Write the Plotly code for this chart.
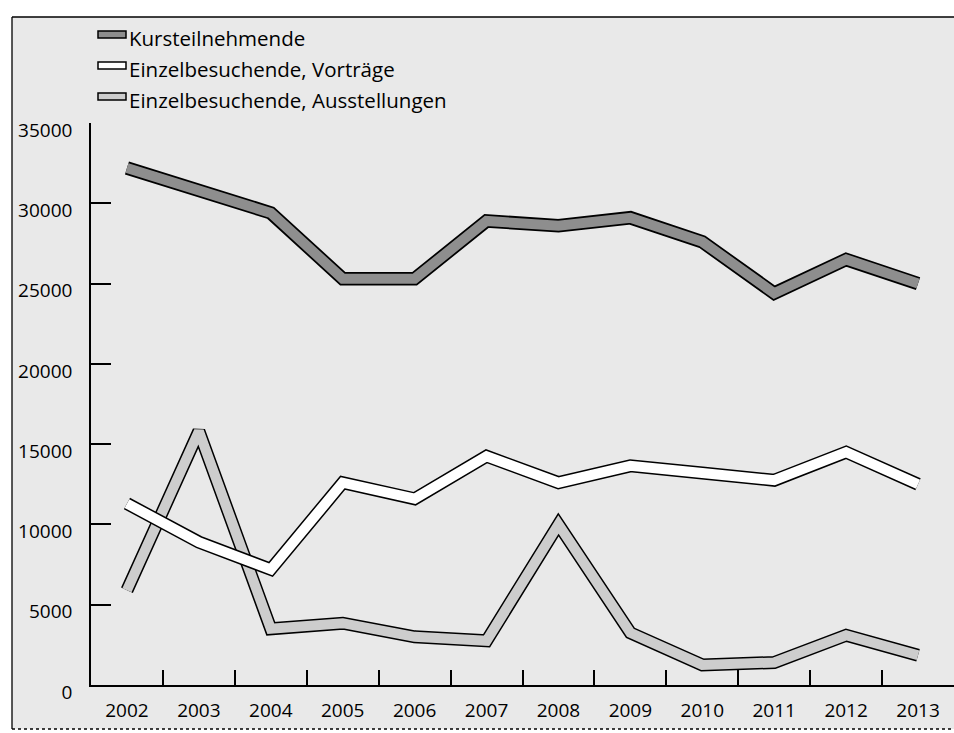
"""
Teilnehmende und Einzelbesuchende 2002-2013 als Bandlinien (Plotly-Nachbau).
"""

import plotly.graph_objects as go

years = ["2002", "2003", "2004", "2005", "2006", "2007",
         "2008", "2009", "2010", "2011", "2012", "2013"]

kursteilnehmende = [32200, 30800, 29400, 25300, 25300, 28900,
                    28600, 29100, 27600, 24400, 26500, 25000]
vortraege = [11300, 8900, 7200, 12600, 11600, 14250,
             12600, 13650, 13200, 12750, 14500, 12500]
ausstellungen = [5900, 15800, 3500, 3850, 3000, 2750,
                 10000, 3250, 1250, 1400, 3100, 1850]

y_ticks = [0, 5000, 10000, 15000, 20000, 25000, 30000, 35000]

series_names = ["Kursteilnehmende", "Einzelbesuchende, Vorträge",
                "Einzelbesuchende, Ausstellungen"]

W, H = 954, 733
M_L, M_R, M_T, M_B = 91, 0, 123, 48
PW, PH = W - M_L - M_R, H - M_T - M_B

FONT = "Open Sans, Liberation Sans, sans-serif"
BG = "#e9e9e9"


def px(x, y):
    """pixel position in the page -> paper coordinates"""
    return (x - M_L) / PW, (H - M_B - y) / PH


fig = go.Figure()


def add_band(values, fill, name, outer=13, inner=10):
    # black outline first, then the fill on top -> looks like a ribbon
    fig.add_trace(go.Scatter(
        x=years, y=values, mode="lines", name=name, showlegend=False,
        line=dict(color="black", width=outer), hoverinfo="skip",
    ))
    fig.add_trace(go.Scatter(
        x=years, y=values, mode="lines", name=name, showlegend=False,
        line=dict(color=fill, width=inner),
        hovertemplate="%{x}: %{y}<extra>" + name + "</extra>",
    ))


add_band(kursteilnehmende, "#8e8e8e", series_names[0], outer=13.5, inner=10)
add_band(ausstellungen, "#cdcdcd", series_names[2])
add_band(vortraege, "#ffffff", series_names[1])

# framed, stippled-looking background (open on the right side)
fx0, fy0 = px(12, 17)
fx1, fy1 = px(990, 729)
fig.add_shape(type="rect", xref="paper", yref="paper", x0=fx0, y0=fy1, x1=fx1, y1=fy0,
              fillcolor=BG, line=dict(width=0), layer="below")
frame = dict(color="black", width=1.3)
fig.add_shape(type="line", xref="paper", yref="paper", x0=fx0, y0=fy1, x1=fx0, y1=fy0, line=frame)
fig.add_shape(type="line", xref="paper", yref="paper", x0=fx0, y0=fy0, x1=fx1, y1=fy0, line=frame)
fig.add_shape(type="line", xref="paper", yref="paper", x0=fx0, y0=fy1, x1=fx1, y1=fy1,
              line=dict(color="black", width=1.3, dash="dot"))

# hand-made legend
legend_fill = ["#8e8e8e", "#ffffff", "#cdcdcd"]
legend_rows = [38, 69, 100]
for name, fill, yc in zip(series_names, legend_fill, legend_rows):
    sx0, sy0 = px(98, yc - 7)
    sx1, sy1 = px(126, yc)
    fig.add_shape(type="rect", xref="paper", yref="paper",
                  x0=sx0, y0=sy1, x1=sx1, y1=sy0,
                  fillcolor=fill, line=dict(color="black", width=1.5))
    ax, ay = px(127, yc)
    fig.add_annotation(x=ax, y=ay, xref="paper", yref="paper", text=name,
                       showarrow=False, xanchor="left", yanchor="middle",
                       font=dict(family=FONT, size=20.5, color="black"))

fig.update_layout(
    width=W, height=H,
    margin=dict(l=M_L, r=M_R, t=M_T, b=M_B, pad=0),
    paper_bgcolor="white",
    plot_bgcolor="rgba(0,0,0,0)",
    showlegend=False,
    font=dict(family=FONT, size=19, color="black"),
    xaxis=dict(
        type="category", range=[-0.5, 11.5],
        showgrid=False, zeroline=False,
        showline=True, linecolor="black", linewidth=1.6,
        ticks="inside", tickson="boundaries", ticklen=15, tickwidth=1.5,
        tickcolor="black", ticklabelstandoff=7,
        tickfont=dict(family=FONT, size=19),
    ),
    yaxis=dict(
        range=[0, 35000], tickvals=y_ticks, ticktext=[str(v) for v in y_ticks],
        showgrid=False, zeroline=False,
        showline=True, linecolor="black", linewidth=1.6,
        ticks="inside", ticklen=20, tickwidth=1.5, tickcolor="black",
        ticklabelstandoff=13, ticklabelshift=7,
        tickfont=dict(family=FONT, size=19),
    ),
)

fig.write_html("out.html", config={"displayModeBar": False},
               post_script="document.body.style.margin='0';")
